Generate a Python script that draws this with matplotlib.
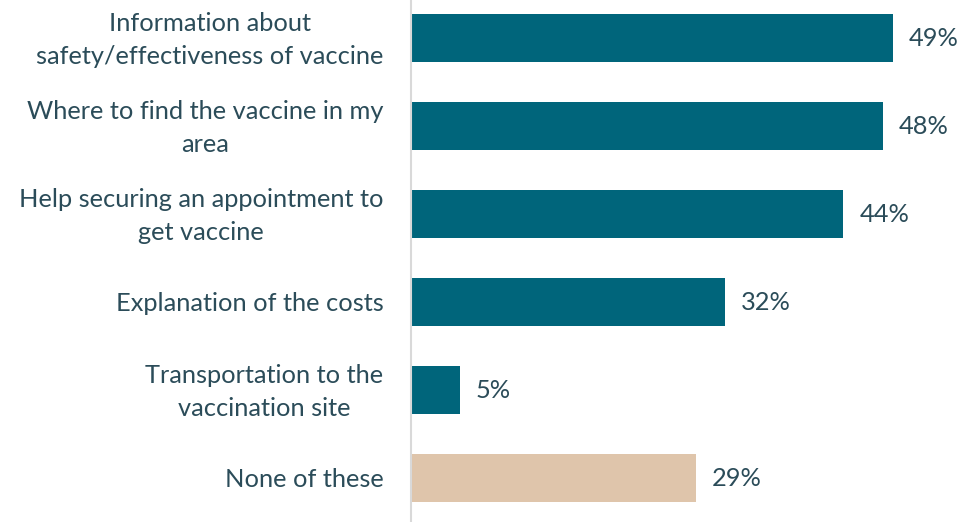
import matplotlib
matplotlib.use("Agg")
import matplotlib.pyplot as plt

categories = [
    "Information about\nsafety/effectiveness of vaccine",
    "Where to find the vaccine in my\narea",
    "Help securing an appointment to\nget vaccine",
    "Explanation of the costs",
    "Transportation to the\nvaccination site",
    "None of these",
]
values = [49, 48, 44, 32, 5, 29]
value_labels = ["49%", "48%", "44%", "32%", "5%", "29%"]
colors = ["#00657B"] * 5 + ["#DFC5AB"]

TEXT = "#2B4C59"
FONT = "Lato"
FS = 18.3

W, H = 961, 522
fig = plt.figure(figsize=(W / 100, H / 100), dpi=100)
ax = fig.add_axes([410.5 / W, 0, 551 / W, 528 / H])

ypos = list(range(len(categories)))
ax.barh(ypos, values, height=0.55, color=colors)
ax.set_ylim(5.5, -0.5)
ax.set_xlim(0, 56)

for y, v, lab in zip(ypos, values, value_labels):
    ax.annotate(lab, xy=(v, y), xytext=(11.5, 0), textcoords="offset points",
                ha="left", va="center", fontsize=FS, color=TEXT, family=FONT)

for y, cat in zip(ypos, categories):
    dy = -1.5 if "\n" in cat else -1.0
    ax.annotate(cat, xy=(0, y), xytext=(-19.5, dy), textcoords="offset points",
                ha="right", va="center", multialignment="center",
                linespacing=1.55, fontsize=FS, color=TEXT, family=FONT,
                annotation_clip=False)

ax.set_yticks([])
ax.set_xticks([])
for s in ["top", "right", "bottom"]:
    ax.spines[s].set_visible(False)
ax.spines["left"].set_color("#D9D9D9")
ax.spines["left"].set_linewidth(1.5)

fig.savefig("out.png", dpi=100)
